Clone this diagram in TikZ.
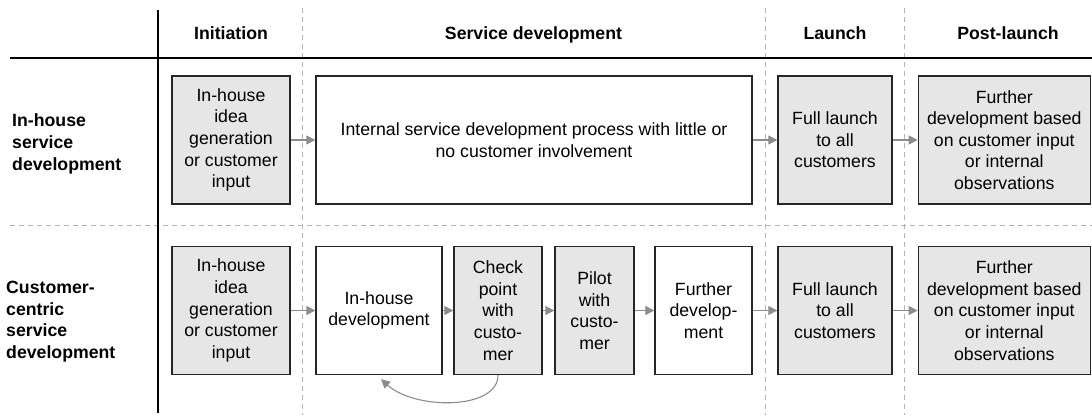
\documentclass[tikz,border=0pt]{standalone}
\usepackage{fontspec}
\setmainfont{Liberation Sans}
\usetikzlibrary{arrows.meta}
\definecolor{boxgray}{HTML}{E6E6E6}
\definecolor{arrgray}{HTML}{8C8C8C}
\definecolor{dashgray}{HTML}{B4B4B4}
\begin{document}
\begin{tikzpicture}[x=1pt,y=-1pt,
  txt/.style={font=\fontsize{17.7}{21.6}\selectfont},
  box/.style={txt, draw=black!85, line width=1.3pt, align=center, inner sep=0pt, fill=white,
    execute at begin node={\rule{0pt}{17.5pt}}},
  gbox/.style={box, fill=boxgray},
  head/.style={font=\bfseries\fontsize{17.7}{21.6}\selectfont, anchor=base},
  rowlab/.style={font=\bfseries\fontsize{17.7}{21.6}\selectfont, align=left, anchor=west, inner sep=0pt},
  arr/.style={draw=arrgray, line width=1.1pt, -{Triangle[length=9pt,width=9pt]}},
  grid/.style={line width=1.2pt, black},
  dgrid/.style={line width=0.9pt, dashgray, dash pattern=on 5pt off 4pt}
]
\useasboundingbox (0,0) rectangle (1092,417);

% grid lines
\draw[dgrid] (302,8) -- (302,415);
\draw[dgrid] (765.5,8) -- (765.5,415);
\draw[dgrid] (904,8) -- (904,415);
\draw[dgrid] (10,225) -- (1092,225);
\draw[grid] (158,10) -- (158,413);
\draw[grid] (10,58) -- (1092,58);

% headers
\node[head] (h1) at (231,39.5) {Initiation};
\node[head] (h2) at (533.5,39.5) {Service development};
\node[head] (h3) at (835,39.5) {Launch};
\node[head] (h4) at (1008,39.5) {Post-launch};

% row labels
\node[rowlab] (r1) at (12,144) {In-house\\service\\development};
\node[rowlab] (r2) at (6,321.5) {Customer-\\centric\\service\\development};

% top row
\node[gbox, minimum width=118, minimum height=128] (a1) at (231,140) {In-house\\idea\\generation\\or customer\\input};
\node[box, minimum width=436, minimum height=128] (a2) at (534,140) {Internal service development process with little or\\no customer involvement};
\node[gbox, minimum width=114, minimum height=128] (a3) at (835,140) {Full launch\\to all\\customers};
\node[gbox, minimum width=172, minimum height=128] (a4) at (1004.3,140) {Further\\development based\\on customer input\\or internal\\observations};

% bottom row
\node[gbox, minimum width=118, minimum height=128] (b1) at (231,310.5) {In-house\\idea\\generation\\or customer\\input};
\node[box, minimum width=126, minimum height=128] (b2) at (379,310.5) {In-house\\development};
\node[gbox, minimum width=88, minimum height=128] (b3) at (498,310.5) {Check\\point\\with\\custo-\\mer};
\node[gbox, minimum width=79, minimum height=128] (b4) at (594.5,310.5) {Pilot\\with\\custo-\\mer};
\node[box, minimum width=97, minimum height=128] (b5) at (703.5,310.5) {Further\\develop-\\ment};
\node[gbox, minimum width=114, minimum height=128] (b6) at (835,310.5) {Full launch\\to all\\customers};
\node[gbox, minimum width=172, minimum height=128] (b7) at (1004.3,310.5) {Further\\development based\\on customer input\\or internal\\observations};

% arrows
\draw[arr] (a1) -- (a2);
\draw[arr] (a2) -- (a3);
\draw[arr] (a3) -- (a4);
\draw[arr] (b1) -- (b2);
\draw[arr] (b2) -- (b3);
\draw[arr] (b3) -- (b4);
\draw[arr] (b4) -- (b5);
\draw[arr] (b5) -- (b6);
\draw[arr] (b6) -- (b7);
\draw[arr] (b3.south) .. controls +(0,35) and +(34,31) .. ([shift={(2,4)}]b2.south);
\end{tikzpicture}
\end{document}
